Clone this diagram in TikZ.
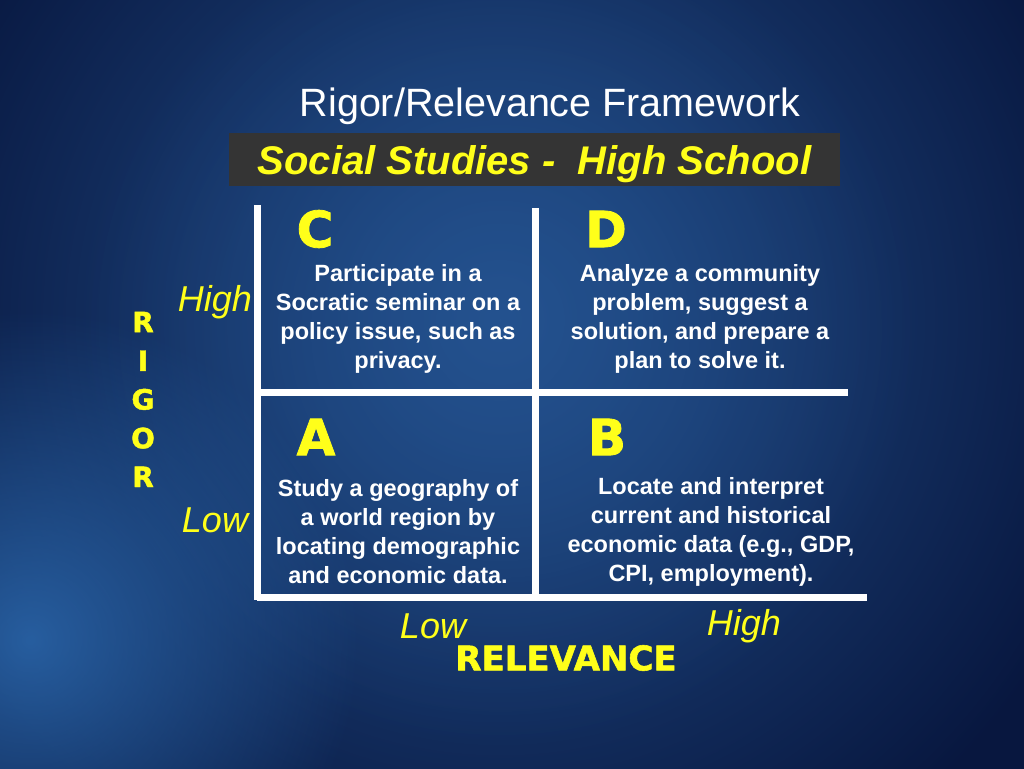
\documentclass[tikz,border=0pt]{standalone}
\usepackage{fontspec}
\setmainfont{Liberation Sans}
\newfontfamily\heavyfont[FakeBold=1.6]{DejaVu Sans Bold}
\usetikzlibrary{positioning,fadings}
\definecolor{RrBgDark}{HTML}{08173F}
\definecolor{RrBgGlow}{HTML}{24528F}
\definecolor{RrBgSide}{HTML}{2E6EB5}
\definecolor{RrYellow}{HTML}{FFFF1A}
\definecolor{RrBox}{HTML}{343434}
\tikzfading[name=rrglow,inner color=transparent!0,outer color=transparent!100]

\tikzset{
  quadletter/.style={font=\heavyfont\fontsize{50}{50}\selectfont,text=RrYellow},
  rigorletter/.style={font=\heavyfont\fontsize{28}{28}\selectfont,text=RrYellow},
  celltext/.style={font=\bfseries\fontsize{23.5}{29}\selectfont,text=white,align=center},
  axislabel/.style={font=\itshape\fontsize{36}{36}\selectfont,text=RrYellow},
  gridline/.style={white,line width=7pt}
}

\begin{document}
\begin{tikzpicture}[x=1pt,y=-1pt]
  \useasboundingbox (0,0) rectangle (1024,768);
  % background
  \fill[RrBgDark] (-10,-10) rectangle (1034,778);
  \fill[RrBgGlow,path fading=rrglow] (500,320) circle (640pt);
  \fill[RrBgGlow,path fading=rrglow,opacity=.6] (500,330) circle (420pt);
  \fill[RrBgSide,path fading=rrglow,opacity=.8] (30,640) circle (330pt);

  % titles
  \node[font=\fontsize{39.5}{40}\selectfont,text=white] (title) at (550,106) {Rigor/Relevance Framework};
  \node[fill=RrBox,minimum width=611pt,minimum height=53pt,inner sep=0pt,
        text height=29pt,text depth=0pt,
        font=\bfseries\itshape\fontsize{40}{40}\selectfont,text=RrYellow]
        (subtitle) at (534.5,159.5) {Social Studies -\ \ High School};

  % grid
  \coordinate (gridTL) at (257,205);
  \coordinate (gridBL) at (257,600);
  \coordinate (midT) at (535,208);
  \coordinate (midB) at (535,597);
  \coordinate (midL) at (257,392);
  \coordinate (midR) at (848,392);
  \coordinate (botL) at (257,597);
  \coordinate (botR) at (867,597);
  \draw[gridline] (gridTL) -- (gridBL);
  \draw[gridline] (midT) -- (midB);
  \draw[gridline] (midL) -- (midR);
  \draw[gridline] (botL) -- (botR);

  % quadrants
  \node[quadletter] (qC) at (315,229) {C};
  \node[quadletter] (qD) at (606,229) {D};
  \node[quadletter] (qA) at (316,437) {A};
  \node[quadletter] (qB) at (607,437) {B};

  \node[celltext] (cellC) at (398,319) {Participate in a\\Socratic seminar on a\\policy issue, such as\\privacy.};
  \node[celltext] (cellD) at (700,319) {Analyze a community\\problem, suggest a\\solution, and prepare a\\plan to solve it.};
  \node[celltext] (cellA) at (398,532) {Study a geography of\\a world region by\\locating demographic\\and economic data.};
  \node[celltext] (cellB) at (711,532) {Locate and interpret\\current and historical\\economic data (e.g., GDP,\\CPI, employment).};

  % rigor axis
  \foreach \l [count=\i] in {R,I,G,O,R}
    \node[rigorletter] (rigor\i) at (143,283.3+38.7*\i) {\l};
  \node[axislabel] (rigHigh) at (215,302) {High};
  \node[axislabel] (rigLow) at (215,520) {Low};

  % relevance axis
  \node[axislabel] (relLow) at (433,626) {Low};
  \node[axislabel] (relHigh) at (744,626) {High};
  \node[font=\heavyfont\fontsize{34}{34}\selectfont,text=RrYellow] (relevance) at (566,658) {RELEVANCE};
\end{tikzpicture}
\end{document}
